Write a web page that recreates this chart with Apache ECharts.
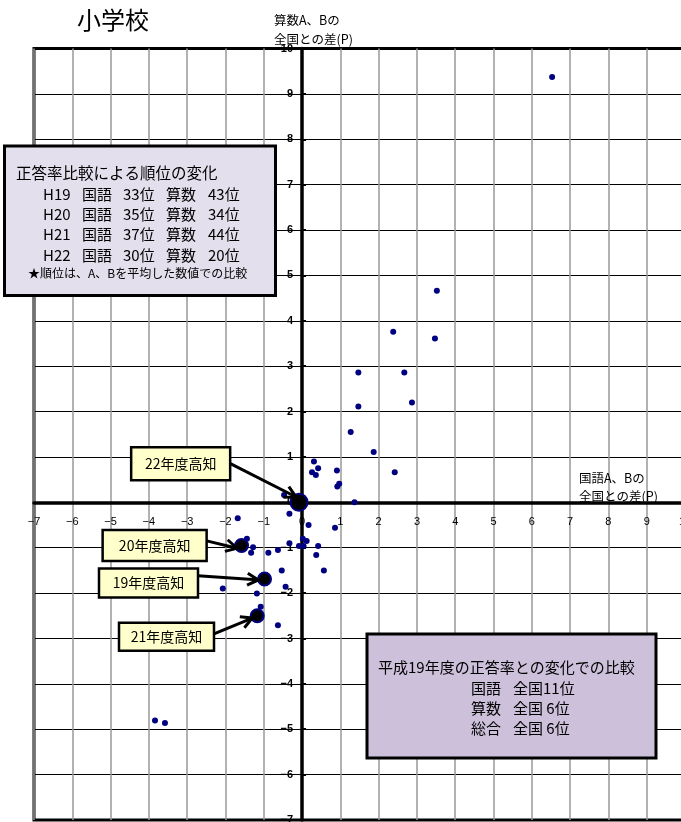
<!DOCTYPE html>
<html>
<head>
<meta charset="utf-8">
<script src="https://cdn.jsdelivr.net/npm/echarts@6/dist/echarts.min.js"></script>
<style>html,body{margin:0;padding:0;background:#fff;}#c{width:681px;height:822px;}</style>
</head>
<body>
<div id="c"></div>
<script>
// ---- data ----
const kokugoDiff = [6.53, 3.52, 2.38, 3.47, 1.47, 2.67, 2.87, 1.47, 1.27, 1.87,
  0.31, 0.42, 0.26, 0.36, 0.91, 2.42, 0.97, 0.92, 1.37, -0.47,
  -0.33, -1.68, 0.17, 0.86, -1.44, 0.02, 0.12, -1.28, -1.33, -0.33,
  -0.08, 0.04, 0.42, -0.88, -0.63, 0.37, 0.57, -0.53, -0.43, -2.07,
  -1.18, -1.08, -0.63, -3.84, -3.58];
const sansuDiff = [9.37, 4.66, 3.76, 3.61, 2.86, 2.86, 2.20, 2.11, 1.55, 1.11,
  0.90, 0.75, 0.66, 0.60, 0.70, 0.66, 0.41, 0.35, 0.00, 0.16,
  -0.25, -0.35, -0.50, -0.56, -0.80, -0.80, -0.85, -0.99, -1.11, -0.90,
  -0.96, -0.96, -0.96, -1.11, -1.05, -1.16, -1.50, -1.50, -1.86, -1.90,
  -2.01, -2.30, -2.71, -4.81, -4.86];
const kochiYears = ['19年度高知', '20年度高知', '21年度高知', '22年度高知'];
const kochiKokugo = [-0.98, -1.58, -1.17, -0.08];
const kochiSansu = [-1.69, -0.95, -2.50, 0.00];
const axisMin = -7, axisMax = 10, axisStep = 1;

const rankTitle = '正答率比較による順位の変化';
const rankYears = ['H19', 'H20', 'H21', 'H22'];
const rankKokugo = ['33位', '35位', '37位', '30位'];
const rankSansu = ['43位', '34位', '44位', '20位'];
const rankNote = '★順位は、A、Bを平均した数値での比較';
const changeTitle = '平成19年度の正答率との変化での比較';
const changeSubjects = ['国語', '算数', '総合'];
const changeRanks = ['全国11位', '全国 6位', '全国 6位'];

// ---- annotation layout (data coordinates for callouts) ----
const callouts = [
  {idx: 3, center: [-3.17, 0.85], w: 99, h: 33, tail: [-1.91, 0.87], head: [-0.16, 0.12]},
  {idx: 1, center: [-3.85, -0.95], w: 104, h: 31, tail: [-2.49, -0.85], head: [-1.70, -1.01]},
  {idx: 0, center: [-4.01, -1.78], w: 99, h: 29, tail: [-2.72, -1.62], head: [-1.14, -1.71]},
  {idx: 2, center: [-3.54, -2.96], w: 95, h: 28, tail: [-2.30, -2.90], head: [-1.30, -2.55]}
];

const JP = '"Noto Sans CJK JP", "Noto Sans", sans-serif';
const minus = v => String(v).replace('-', '−');

const GRID = {left: 34, top: 48.5, width: 651, height: 771.5};
// offsets that bring each axis onto the other axis' zero
const xZeroOffset = -GRID.height * (0 - axisMin) / (axisMax - axisMin);
const yZeroOffset = -GRID.width * (0 - axisMin) / (axisMax - axisMin);

const chart = echarts.init(document.getElementById('c'), null, {renderer: 'canvas'});
const smallPts = kokugoDiff.map((x, i) => [x, sansuDiff[i]]);
const kochiPts = kochiKokugo.map((x, i) => ({
  name: kochiYears[i],
  value: [x, kochiSansu[i]],
  symbolSize: i === 3 ? 17 : 13
}));

chart.setOption({
  animation: false,
  grid: Object.assign({show: true, borderColor: '#000', borderWidth: 3, containLabel: false, outerBoundsMode: 'none'}, GRID),
  xAxis: {
    type: 'value', min: axisMin, max: axisMax, interval: axisStep,
    position: 'bottom', offset: xZeroOffset,
    axisLine: {onZero: false, lineStyle: {color: '#000', width: 3.5}},
    axisTick: {show: false},
    axisLabel: {color: '#000', fontSize: 11, margin: 14, fontFamily: 'Liberation Sans, Arial', formatter: minus},
    splitLine: {lineStyle: {color: '#999', width: 1.5}}
  },
  yAxis: {
    type: 'value', min: axisMin, max: axisMax, interval: axisStep,
    position: 'left', offset: yZeroOffset,
    axisLine: {onZero: false, lineStyle: {color: '#000', width: 3.5}},
    axisTick: {show: true, inside: true, length: 4, lineStyle: {color: '#000', width: 2}},
    axisLabel: {color: '#000', fontSize: 11, fontWeight: 'bold', margin: 9, fontFamily: 'Liberation Sans, Arial', formatter: minus},
    splitLine: {lineStyle: {color: '#000', width: 1}}
  },
  series: [
    {type: 'scatter', data: smallPts, symbolSize: 6, itemStyle: {color: '#000080', opacity: 1}, z: 3},
    {type: 'scatter', data: kochiPts, itemStyle: {color: '#000', borderColor: '#000080', borderWidth: 2, opacity: 1}, z: 4}
  ]
});

function drawAnnotations() {
  const g = [];
  g.push({type: 'text', left: 77, top: 8, z: 10, style: {text: '小学校', font: '24px ' + JP, fill: '#000'}});
  g.push({type: 'text', left: 274, top: 11, z: 10, style: {text: '算数A、Bの\n全国との差(P)', font: '12.5px ' + JP, fill: '#000', lineHeight: 18.5}});
  g.push({type: 'text', left: 579, top: 469, z: 10, style: {text: '国語A、Bの\n全国との差(P)', font: '12.5px ' + JP, fill: '#000', lineHeight: 18}});

  // box 1
  g.push({type: 'rect', z: 20, shape: {x: 4.5, y: 146, width: 271, height: 149.5}, style: {fill: '#e4dfec', stroke: '#000', lineWidth: 3}});
  g.push({type: 'text', z: 21, x: 16, y: 173, style: {text: rankTitle, font: '15.5px ' + JP, fill: '#000', textVerticalAlign: 'middle'}});
  const colX = [43, 82, 123, 166, 208];
  rankYears.forEach((yr, i) => {
    const cy = 194 + i * 20.3;
    const parts = [yr, '国語', rankKokugo[i], '算数', rankSansu[i]];
    parts.forEach((t, j) => {
      g.push({type: 'text', z: 21, x: colX[j], y: cy, style: {text: t, font: '15px ' + JP, fill: '#000', textVerticalAlign: 'middle'}});
    });
  });
  g.push({type: 'text', z: 21, x: 28, y: 273, style: {text: rankNote, font: '12px ' + JP, fill: '#000', textVerticalAlign: 'middle'}});

  // box 2
  g.push({type: 'rect', z: 20, shape: {x: 367, y: 634, width: 289, height: 124}, style: {fill: '#ccc0da', stroke: '#000', lineWidth: 3}});
  g.push({type: 'text', z: 21, x: 378, y: 667, style: {text: changeTitle, font: '15px ' + JP, fill: '#000', textVerticalAlign: 'middle'}});
  changeSubjects.forEach((s, i) => {
    const cy = 688 + i * 20.3;
    g.push({type: 'text', z: 21, x: 471, y: cy, style: {text: s, font: '15px ' + JP, fill: '#000', textVerticalAlign: 'middle'}});
    g.push({type: 'text', z: 21, x: 513, y: cy, style: {text: changeRanks[i], font: '15px ' + JP, fill: '#000', textVerticalAlign: 'middle'}});
  });

  // callouts with arrows
  callouts.forEach(c => {
    const p = chart.convertToPixel({gridIndex: 0}, c.center);
    const t = chart.convertToPixel({gridIndex: 0}, c.tail);
    const h = chart.convertToPixel({gridIndex: 0}, c.head);
    g.push({type: 'rect', z: 30, shape: {x: p[0] - c.w / 2, y: p[1] - c.h / 2, width: c.w, height: c.h},
      style: {fill: '#ffffcc', stroke: '#000', lineWidth: 2.5}});
    g.push({type: 'text', z: 31, x: p[0], y: p[1], style: {text: kochiYears[c.idx], font: '14px ' + JP, fill: '#000', textAlign: 'center', textVerticalAlign: 'middle'}});
    const dx = h[0] - t[0], dy = h[1] - t[1];
    const len = Math.hypot(dx, dy);
    const ux = dx / len, uy = dy / len;
    const nx = -uy, ny = ux;
    const L = 11, W = 6;
    g.push({type: 'line', z: 29, shape: {x1: t[0], y1: t[1], x2: h[0] - ux * 2, y2: h[1] - uy * 2}, style: {stroke: '#000', lineWidth: 3}});
    g.push({type: 'polyline', z: 29, shape: {points: [
      [h[0] - ux * L + nx * W, h[1] - uy * L + ny * W], [h[0], h[1]], [h[0] - ux * L - nx * W, h[1] - uy * L - ny * W]
    ]}, style: {stroke: '#000', lineWidth: 3, fill: null, lineJoin: 'miter'}});
  });
  chart.setOption({graphic: g});
}
drawAnnotations();
</script>
</body>
</html>
